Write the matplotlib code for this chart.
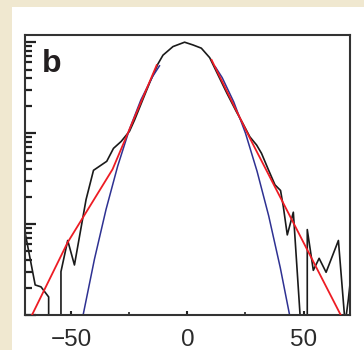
import matplotlib.pyplot as plt
from matplotlib.patches import Rectangle
from matplotlib.ticker import LogLocator, NullFormatter, FixedLocator

# empirical distribution (black)
data_x = [-70.0, -65.5, -63.0, -59.7, -58.0, -56.0, -54.4, -51.5, -48.6, -43.6,
          -40.4, -34.7, -31.8, -28.5, -24.9, -22.7, -19.0, -16.0, -12.7, -10.5,
          -6.2, -1.2, 2.4, 6.0, 9.6, 13.0, 17.0, 21.0, 24.0, 26.9,
          29.8, 31.9, 34.8, 37.7, 40.1, 41.3, 43.0, 45.6, 48.5, 50.0,
          51.6, 54.2, 56.7, 59.7, 65.0, 67.9, 69.3, 70.0]
data_y = [0.0085, 0.00214, 0.00204, 0.00158, 0.0, 0.0, 0.0030, 0.0066, 0.00355, 0.0186,
          0.039, 0.049, 0.068, 0.081, 0.105, 0.14, 0.24, 0.37, 0.575, 0.72,
          0.895, 1.0, 0.933, 0.86, 0.676, 0.447, 0.275, 0.174, 0.126, 0.091,
          0.074, 0.060, 0.040, 0.027, 0.0234, 0.0155, 0.0076, 0.0135, 0.0010, 0.0,
          0.0087, 0.0031, 0.0042, 0.00295, 0.0066, 0.0008, 0.0015, 0.0022]

# gaussian fit (blue)
gauss_left_x = [-46.0, -40.0, -35.0, -30.0, -25.0, -20.0, -15.0, -12.0]
gauss_left_y = [7.2e-4, 4.1e-3, 0.0145, 0.0433, 0.109, 0.232, 0.418, 0.55]
gauss_right_x = [12.0, 15.0, 20.0, 25.0, 30.0, 35.0, 40.0, 45.0]
gauss_right_y = [0.537, 0.407, 0.219, 0.100, 0.038, 0.0123, 3.3e-3, 7.4e-4]

# exponential tails (red)
exp_left_x = [-67.3, -51.5, -32.2, -17.7, -13.2]
exp_left_y = [9.5e-4, 0.0063, 0.040, 0.30, 0.56]
exp_right_x = [10.4, 26.9, 45.0, 66.0]
exp_right_y = [0.64, 0.088, 0.0111, 1.0e-3]

x_ticks = [-50, 0, 50]
x_labels = ['\u221250', '0', '50']

fig = plt.figure(figsize=(3.64, 3.5), dpi=100, facecolor='#f0e8d0')
fig.patches.append(Rectangle((12 / 364, 0), 1, 343 / 350, transform=fig.transFigure,
                             facecolor='white', edgecolor='none', zorder=-10))

ax = fig.add_axes([0.0679, 0.1, 0.8937, 0.8], zorder=5)
ax.set_facecolor('white')
ax.set_yscale('log')

ax.plot(gauss_left_x, gauss_left_y, color='#2e3192', lw=1.1, zorder=2)
ax.plot(gauss_right_x, gauss_right_y, color='#2e3192', lw=1.1, zorder=2)
ax.plot(data_x, data_y, color='#1a1a1a', lw=1.2, zorder=1)
ax.plot(exp_left_x, exp_left_y, color='#ed1c24', lw=1.3, zorder=3)
ax.plot(exp_right_x, exp_right_y, color='#ed1c24', lw=1.3, zorder=3)

ax.set_xlim(-70, 70)
ax.set_ylim(1e-3, 1.2)

for s in ax.spines.values():
    s.set_linewidth(1.5)
    s.set_color('#333333')

ax.yaxis.set_major_locator(LogLocator(base=10, numticks=10))
ax.yaxis.set_minor_locator(LogLocator(base=10, subs=range(2, 10), numticks=10))
ax.yaxis.set_major_formatter(NullFormatter())
ax.yaxis.set_minor_formatter(NullFormatter())
ax.tick_params(axis='y', which='major', direction='in', length=8, width=1.6, color='#222222')
ax.tick_params(axis='y', which='minor', direction='in', length=5, width=1.6, color='#222222')

ax.set_xticks(x_ticks)
ax.set_xticklabels(x_labels, fontsize=17.5, family='Liberation Sans', color='#2b2b2b')
ax.xaxis.set_minor_locator(FixedLocator([-25, 25]))
ax.tick_params(axis='x', which='major', direction='in', length=3, width=1.5, pad=10, color='#222222')
ax.tick_params(axis='x', which='minor', direction='in', length=2, width=1.2, color='#222222')

ax.text(0.053, 0.868, 'b', transform=ax.transAxes, fontsize=23, fontweight='bold',
        family='Liberation Sans', color='#231f20', ha='left', va='baseline')

plt.savefig('out.png', dpi=100, facecolor=fig.get_facecolor())
